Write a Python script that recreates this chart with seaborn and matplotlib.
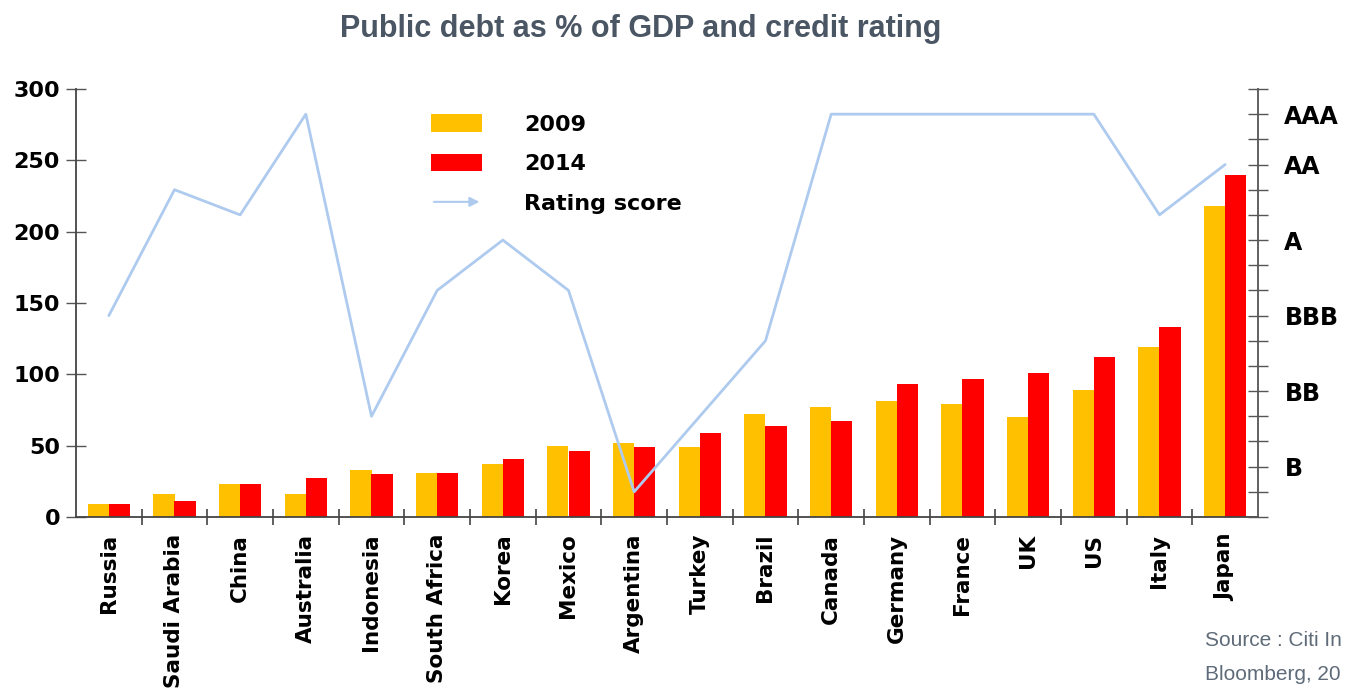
import numpy as np
import pandas as pd
import matplotlib
matplotlib.use("Agg")
import matplotlib.pyplot as plt
import seaborn as sns
from matplotlib.patches import Patch, FancyArrowPatch
from matplotlib.legend_handler import HandlerBase

countries = ["Russia", "Saudi Arabia", "China", "Australia", "Indonesia", "South Africa",
             "Korea", "Mexico", "Argentina", "Turkey", "Brazil", "Canada", "Germany",
             "France", "UK", "US", "Italy", "Japan"]
debt_2009 = [9, 16, 23, 16, 33, 31, 37, 50, 52, 49, 72, 77, 81, 79, 70, 89, 119, 218]
debt_2014 = [9, 11, 23, 27, 30, 31, 41, 46, 49, 59, 64, 67, 93, 97, 101, 112, 133, 240]
rating_score = [8, 13, 12, 16, 4, 9, 11, 9, 1, 4, 7, 16, 16, 16, 16, 16, 12, 14]
rating_ticks = [2, 5, 8, 11, 14, 16]
rating_labels = ["B", "BB", "BBB", "A", "AA", "AAA"]
years = ["2009", "2014"]

YELLOW = "#FFC000"
RED = "#FF0000"
BLUE = "#AECBEF"

df = pd.DataFrame({
    "country": countries * 2,
    "year": [years[0]] * len(countries) + [years[1]] * len(countries),
    "debt": debt_2009 + debt_2014,
})

sns.set_style("white")
plt.rcParams["font.family"] = ["DejaVu Sans"]
plt.rcParams["text.color"] = "black"

fig = plt.figure(figsize=(13.46, 6.90), dpi=100)
ax = fig.add_axes([76 / 1346, 1 - 517 / 690, (1258 - 76) / 1346, (517 - 89) / 690])

sns.barplot(data=df, x="country", y="debt", hue="year", palette=[YELLOW, RED],
            width=0.64, saturation=1, ax=ax, legend=False, linewidth=0)

ax.set_xlim(-0.5, len(countries) - 0.5)
ax.set_ylim(0, 300)
ax.set_yticks(range(0, 301, 50))
ax.set_xlabel("")
ax.set_ylabel("")

for s in ["top", "right"]:
    ax.spines[s].set_visible(False)
for s in ["left", "bottom"]:
    ax.spines[s].set_color("#444444")
    ax.spines[s].set_linewidth(1.3)

ax.tick_params(axis="y", direction="inout", length=15, width=1.0, color="#555555",
               labelsize=16, pad=4, left=True, labelcolor="black")
for lab in ax.get_yticklabels():
    lab.set_fontweight("bold")

ax.set_xticks(range(len(countries)))
ax.set_xticklabels(countries, rotation=90, fontsize=15.5, fontweight="bold", va="top",
                   ha="center", color="black")
ax.tick_params(axis="x", which="major", length=0, pad=12)
ax.set_xticks(np.arange(0.5, len(countries) - 1, 1.0), minor=True)
ax.tick_params(axis="x", which="minor", direction="inout", length=12, width=1.2,
               color="#444444", bottom=True)

ax2 = ax.twinx()
sns.lineplot(x=np.arange(len(countries)), y=rating_score, ax=ax2, color=BLUE, linewidth=2)
ax2.set_ylim(0, 17)
ax2.set_xlim(-0.5, len(countries) - 0.5)
ax2.set_yticks(range(0, 18))
ax2.set_yticklabels([rating_labels[rating_ticks.index(i)] if i in rating_ticks else ""
                     for i in range(0, 18)])
ax2.tick_params(axis="y", direction="inout", length=14, width=1.0, color="#555555",
                labelsize=17, pad=12, right=True, labelcolor="black")
for lab in ax2.get_yticklabels():
    lab.set_fontweight("bold")
ax2.set_ylabel("")
for s in ["top", "left", "bottom"]:
    ax2.spines[s].set_visible(False)
ax2.spines["right"].set_color("#555555")
ax2.spines["right"].set_linewidth(1.3)


class ArrowHandler(HandlerBase):
    def create_artists(self, legend, orig_handle, xdescent, ydescent, width, height,
                       fontsize, trans):
        y = height / 2 - ydescent
        a = FancyArrowPatch((-xdescent, y), (width - xdescent, y), arrowstyle="-|>",
                            mutation_scale=14, color=BLUE, lw=1.5, transform=trans)
        return [a]


arrow_handle = Patch(color=BLUE)
handles = [Patch(facecolor=YELLOW, edgecolor="none"), Patch(facecolor=RED, edgecolor="none"),
           arrow_handle]
leg = fig.legend(handles, ["2009", "2014", "Rating score"], loc="upper left",
                 bbox_to_anchor=(420 / 1346, 1 - 103 / 690), frameon=False,
                 prop={"weight": "bold", "size": 16}, handlelength=2.3,
                 handleheight=0.85, labelspacing=0.85, handletextpad=1.9, borderpad=0,
                 handler_map={arrow_handle: ArrowHandler()})

fig.text(641 / 1346, 1 - 29 / 690, "Public debt as % of GDP and credit rating",
         ha="center", va="center", fontsize=22, fontweight="bold", color="#4A5663",
         family=["Liberation Sans", "DejaVu Sans"])

fig.text(1205 / 1346, 1 - 641 / 690, "Source : Citi In", ha="left", va="center",
         fontsize=15, color="#5F6B78", family=["Liberation Sans", "DejaVu Sans"])
fig.text(1205 / 1346, 1 - 674 / 690, "Bloomberg, 20", ha="left", va="center",
         fontsize=15, color="#5F6B78", family=["Liberation Sans", "DejaVu Sans"])

fig.savefig("out.png", dpi=100)
